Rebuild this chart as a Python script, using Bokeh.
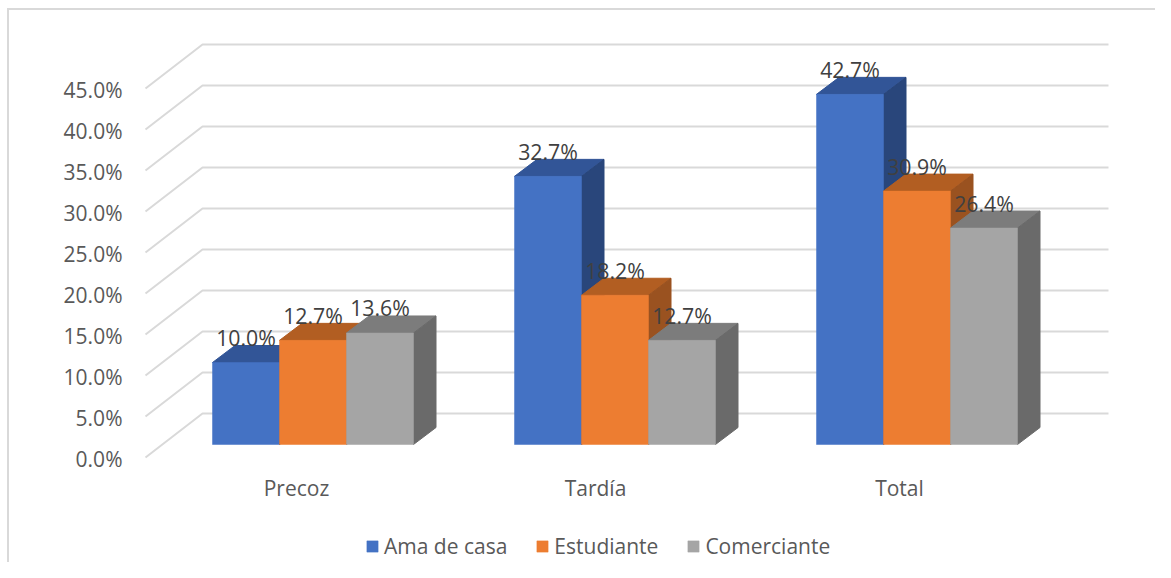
from bokeh.plotting import figure
from bokeh.models import Range1d, LinearAxis, FixedTicker, Legend, LegendItem
from bokeh.core.properties import value
from bokeh.embed import file_html
from bokeh.resources import INLINE

categories = ["Precoz", "Tardía", "Total"]
ama_de_casa = [10.0, 32.7, 42.7]
estudiante = [12.7, 18.2, 30.9]
comerciante = [13.6, 12.7, 26.4]
tick_values = [0, 5, 10, 15, 20, 25, 30, 35, 40, 45]
tick_labels = ["0.0%", "5.0%", "10.0%", "15.0%", "20.0%", "25.0%", "30.0%", "35.0%", "40.0%", "45.0%"]

FONT = "Open Sans"
W, H = 1155, 562
FL, FR, FT, FB = 127, W, 0, H   # plotting frame in picture pixels
PX_PER_PCT = 8.2
PX_PER_CAT = 302.0
X0 = 296.0      # category 0
Y0_BAR = 444.0  # 0 % at the bars' front face

x_start = (FL - X0) / PX_PER_CAT
x_end = (FR - X0) / PX_PER_CAT
y_start = (Y0_BAR - FB) / PX_PER_PCT
y_end = (Y0_BAR - FT) / PX_PER_PCT

# offsets in data units
BAR_W = 67 / PX_PER_CAT
GROUP_SHIFT = 16.5 / PX_PER_CAT
DEPTH_X = 22.5 / PX_PER_CAT
DEPTH_Y = 17 / PX_PER_PCT
FRONT_SHIFT = (Y0_BAR - 457) / PX_PER_PCT   # floor front edge relative to bar plane
LABEL_SHIFT = (Y0_BAR - 458.2) / PX_PER_PCT # tick labels relative to bar plane
WALL_SHIFT = (Y0_BAR - 413) / PX_PER_PCT    # wall plane relative to bar plane
AXIS_X = (145 - X0) / PX_PER_CAT
WALL_X0 = (202 - X0) / PX_PER_CAT
WALL_X1 = (1108 - X0) / PX_PER_CAT
CAT_LABEL_Y = (Y0_BAR - 487.5) / PX_PER_PCT
CAT_LABEL_NUDGE = [0, -3, -1]

p = figure(width=W, height=H, output_backend="svg", toolbar_location=None,
           x_range=Range1d(x_start, x_end), y_range=Range1d(y_start, y_end),
           x_axis_location=None, y_axis_location=None,
           min_border_left=FL, min_border_right=0, min_border_top=0, min_border_bottom=0,
           background_fill_color=None, border_fill_color=None, outline_line_color=None)
p.grid.visible = False

# outer chart border: only its top and left sides fall inside the picture
p.styles = {
    "background-color": "white",
    "background-image": "linear-gradient(#d9d9d9,#d9d9d9),linear-gradient(#d9d9d9,#d9d9d9)",
    "background-repeat": "no-repeat",
    "background-position": "7px 8px,7px 8px",
    "background-size": "2px 100%,100% 2px",
}

# value axis, on the front plane of the floor
p.extra_y_ranges = {"front": Range1d(y_start - LABEL_SHIFT, y_end - LABEL_SHIFT)}
yaxis = LinearAxis(y_range_name="front", ticker=FixedTicker(ticks=tick_values),
                   major_label_overrides=dict(zip(tick_values, tick_labels)))
yaxis.axis_line_color = None
yaxis.major_tick_line_color = None
yaxis.minor_tick_line_color = None
yaxis.major_tick_out = 0
yaxis.major_label_standoff = 5
yaxis.major_label_text_font = FONT
yaxis.major_label_text_font_size = "21px"
yaxis.major_label_text_color = "#595959"
p.add_layout(yaxis, "left")

# wall gridlines with their floor-to-wall diagonal
p.multi_line(xs=[[AXIS_X, WALL_X0, WALL_X1] for _ in tick_values],
             ys=[[v + FRONT_SHIFT, v + WALL_SHIFT, v + WALL_SHIFT] for v in tick_values],
             line_color="#d9d9d9", line_width=2)

series = [
    ("Ama de casa", ama_de_casa, "#4472C4", "#325597", "#29467B"),
    ("Estudiante", estudiante, "#ED7D31", "#B25E22", "#9A5220"),
    ("Comerciante", comerciante, "#A5A5A5", "#7C7C7C", "#6A6A6A"),
]
items = []
lab_x, lab_y, lab_t = [], [], []
for s, (name, vals, front, top, side) in enumerate(series):
    lefts = [i + GROUP_SHIFT + (s - 1.5) * BAR_W for i in range(len(vals))]
    rights = [l + BAR_W for l in lefts]
    p.patches(xs=[[l, r, r + DEPTH_X, l + DEPTH_X] for l, r in zip(lefts, rights)],
              ys=[[v, v, v + DEPTH_Y, v + DEPTH_Y] for v in vals],
              fill_color=top, line_color=top, line_width=1)
    p.patches(xs=[[r, r + DEPTH_X, r + DEPTH_X, r] for r in rights],
              ys=[[0, DEPTH_Y, v + DEPTH_Y, v] for v in vals],
              fill_color=side, line_color=side, line_width=1)
    r_front = p.quad(left=lefts, right=rights, bottom=[0] * len(vals), top=vals,
                     fill_color=front, line_color=front, line_width=0.5)
    items.append(LegendItem(label=name, renderers=[r_front]))
    lab_x += [(l + r) / 2 for l, r in zip(lefts, rights)]
    lab_y += vals
    lab_t += [f"{v:.1f}%" for v in vals]

p.text(x=lab_x, y=lab_y, text=lab_t, text_font=value(FONT), text_font_size="21.3px",
       text_color="#404040", text_align="center", text_baseline="middle", y_offset=-25)

# category labels
p.text(x=list(range(len(categories))), y=[CAT_LABEL_Y] * len(categories), text=categories,
       x_offset=CAT_LABEL_NUDGE,
       text_font=value(FONT), text_font_size="21px", text_color="#595959",
       text_align="center", text_baseline="middle")

legend = Legend(items=items, orientation="horizontal", location=(365 - FL, 2),
                background_fill_alpha=0, border_line_color=None,
                label_text_font=FONT, label_text_font_size="21px", label_text_color="#595959",
                glyph_width=14, glyph_height=14, label_standoff=5, spacing=28,
                padding=0, margin=0)
p.add_layout(legend, "center")

open("out.html", "w").write(file_html(p, INLINE))
